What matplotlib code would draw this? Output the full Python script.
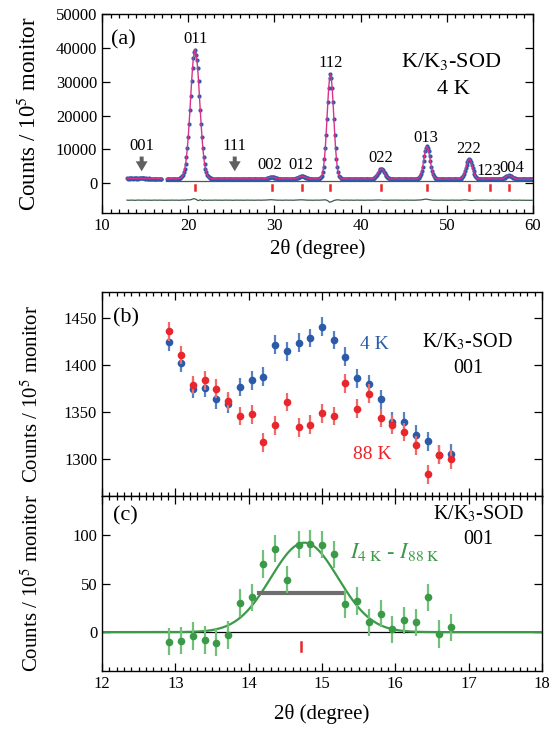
import numpy as np
import matplotlib
matplotlib.use("Agg")
import matplotlib.pyplot as plt
from matplotlib.ticker import MultipleLocator

plt.rcParams['font.family'] = ['Liberation Serif', 'DejaVu Serif']
plt.rcParams['mathtext.fontset'] = 'stix'
plt.rcParams['font.size'] = 12

# ---------------- (a) powder pattern at 4 K ----------------
step = 0.1
scan_starts = [12.9, 17.5, 23.0, 30.7, 34.3, 37.9, 43.6, 48.9, 53.8, 58.3]
obs_s1 = [1420, 1390, 1410, 1400, 1380, 1410, 1400, 1390, 1420, 1400,
          1380, 1410, 1400, 1390, 1400, 1420, 1410, 1430, 1420, 1410,
          1400, 1390, 1400, 1380, 1390, 1400, 1380, 1390, 1370, 1380,
          1370, 1360, 1370, 1350, 1360, 1340, 1330, 1340, 1320, 1320,
          1310]
obs_s2 = [1320, 1310, 1330, 1320, 1310, 1330, 1320, 1340, 1330, 1310,
          1320, 1300, 1310, 1330, 1370, 1420, 1530, 1710, 2010, 2480,
          3210, 4280, 5770, 7800, 10400, 13600, 17360, 21520, 25880, 30140,
          33950, 36980, 38700, 39500, 38000, 36500, 33950, 30140, 25880, 21520,
          17360, 13600, 10400, 7800, 5770, 4280, 3210, 2480, 2010, 1710,
          1530, 1420, 1370, 1330, 1310]
obs_s3 = [1300, 1290, 1310, 1300, 1290, 1300, 1310, 1290, 1300, 1280,
          1300, 1290, 1300, 1310, 1290, 1300, 1280, 1290, 1300, 1290,
          1300, 1310, 1300, 1290, 1300, 1310, 1300, 1290, 1280, 1300,
          1290, 1300, 1280, 1290, 1300, 1290, 1280, 1290, 1300, 1280,
          1290, 1280, 1290, 1300, 1280, 1290, 1280, 1290, 1280, 1300,
          1290, 1280, 1290, 1280, 1290, 1280, 1300, 1290, 1330, 1360,
          1390, 1450, 1510, 1590, 1670, 1740, 1780, 1800, 1780, 1740,
          1670, 1590, 1510, 1450, 1390, 1360, 1330]
obs_s4 = [1310, 1300, 1290, 1300, 1280, 1290, 1300, 1290, 1280, 1290,
          1300, 1290, 1280, 1290, 1300, 1320, 1350, 1380, 1440, 1520,
          1620, 1730, 1850, 1950, 2020, 2050, 2020, 1950, 1850, 1730,
          1620, 1520, 1440, 1380, 1350, 1320]
obs_s5 = [1300, 1290, 1280, 1290, 1280, 1270, 1280, 1290, 1280, 1350,
          1470, 1740, 2260, 3180, 4700, 7030, 10260, 14380, 19120, 23960,
          28200, 31110, 32150, 31110, 28200, 23960, 19120, 14380, 10260, 7030,
          4700, 3180, 2260, 1740, 1470, 1350]
obs_s6 = [1300, 1280, 1270, 1260, 1270, 1260, 1250, 1260, 1270, 1250,
          1260, 1250, 1260, 1270, 1250, 1260, 1250, 1240, 1260, 1250,
          1260, 1250, 1240, 1250, 1260, 1250, 1240, 1250, 1260, 1250,
          1240, 1250, 1260, 1250, 1300, 1350, 1440, 1590, 1810, 2120,
          2530, 2980, 3450, 3870, 4150, 4250, 4150, 3870, 3450, 2980,
          2530, 2120, 1810, 1590, 1440, 1350, 1300]
obs_s7 = [1270, 1260, 1250, 1240, 1250, 1260, 1250, 1240, 1250, 1260,
          1240, 1250, 1240, 1250, 1260, 1250, 1240, 1250, 1240, 1250,
          1260, 1240, 1250, 1240, 1250, 1260, 1250, 1240, 1250, 1260,
          1340, 1460, 1680, 2070, 2710, 3660, 4930, 6450, 8050, 9480,
          10490, 10850, 10490, 9480, 8050, 6450, 4930, 3660, 2710, 2070,
          1680, 1460, 1340]
obs_s8 = [1280, 1260, 1250, 1240, 1250, 1240, 1230, 1240, 1250, 1240,
          1230, 1240, 1250, 1240, 1230, 1240, 1230, 1240, 1250, 1240,
          1230, 1240, 1230, 1240, 1250, 1270, 1310, 1380, 1510, 1760,
          2150, 2730, 3510, 4440, 5430, 6310, 6930, 7150, 6930, 6310,
          5430, 4440, 3510, 2730, 2150, 1760, 1510, 1380, 1310]
obs_s9 = [1260, 1240, 1230, 1220, 1230, 1220, 1230, 1240, 1260, 1290,
          1320, 1340, 1350, 1330, 1300, 1270, 1250, 1230, 1220, 1230,
          1220, 1210, 1220, 1230, 1240, 1270, 1320, 1410, 1520, 1670,
          1840, 2010, 2160, 2260, 2300, 2260, 2160, 2010, 1840, 1670,
          1520, 1410, 1320, 1270, 1240]
obs_s10 = [1220, 1210, 1200, 1210, 1190, 1200, 1210, 1200, 1190, 1200,
           1190, 1200, 1210, 1190, 1200, 1190, 1200, 1190]
obs_segments = [obs_s1, obs_s2, obs_s3, obs_s4, obs_s5,
                obs_s6, obs_s7, obs_s8, obs_s9, obs_s10]

diff_start, diff_step = 12.9, 0.25
diff_counts = [
    -5000, -5040, -4990, -5020, -5050, -4980, -5010, -5030, -4990, -5020,
    -5000, -5040, -5010, -4990, -5030, -5000, -5020, -5010, -5040, -5000,
    -5030, -4990, -5020, -5000, -5040, -5010, -4980, -5020, -4900, -4950,
    -4800, -4550, -4750, -5150, -4900, -5100, -4980, -5050, -5000, -5030,
    -5010, -4990, -5020, -5000, -5030, -5010, -4990, -5020, -5000, -5040,
    -5010, -4990, -5020, -5000, -5030, -5010, -4990, -5020, -5000, -5030,
    -5010, -4990, -5020, -5000, -5010, -4960, -4900, -4880, -4930, -4990,
    -5020, -5000, -5030, -5010, -4990, -5020, -5000, -5030, -5010, -4960,
    -4920, -4900, -4940, -4980, -5020, -5000, -5030, -5010, -4990, -5020,
    -5000, -4950, -4900, -5100, -5600, -5450, -5100, -4950, -4900, -5000,
    -5030, -5010, -4990, -5020, -5000, -5030, -5010, -4990, -5020, -5000,
    -5030, -5010, -4990, -5020, -5000, -4960, -4930, -4950, -4990, -5030,
    -5010, -5040, -5000, -5020, -5010, -4990, -5020, -5000, -5030, -5010,
    -4990, -5020, -5000, -5030, -5010, -4990, -4950, -4880, -4750, -4700,
    -4850, -4950, -5020, -5000, -5030, -5010, -4990, -5020, -5000, -5030,
    -5010, -4990, -5020, -5000, -5030, -4990, -4950, -4920, -4980, -5060,
    -5100, -5040, -5000, -5020, -5010, -4990, -5020, -5000, -5030, -5010,
    -4990, -5020, -5000, -5030, -5010, -4990, -5020, -4980, -5020, -5040,
    -5010, -5030, -5000, -5040, -5020, -5050, -5030, -5060, -5040]

refl_pos = [20.8, 29.7, 33.2, 36.5, 42.4, 47.7, 52.6, 55.0, 57.2]
refl_hkl = ['011', '002', '012', '112', '022', '013', '222', '123', '004']
refl_label_x = [20.8, 29.5, 33.1, 36.5, 42.3, 47.6, 52.5, 54.9, 57.6]
refl_label_y = [42700, 5400, 5400, 35500, 7500, 13300, 10000, 3500, 4600]
arrow_hkl = ['001', '111']
arrow_pos = [14.6, 25.4]

# ---------------- (b), (c) 001 reflection ----------------
tth_001 = [12.92, 13.08, 13.24, 13.40, 13.56, 13.72, 13.88, 14.04, 14.20,
           14.36, 14.52, 14.68, 14.84, 15.00, 15.16, 15.32, 15.48, 15.64,
           15.80, 15.96, 16.12, 16.28, 16.44, 16.60, 16.76]
cnt_4K = [1425, 1403, 1375, 1376, 1364, 1359, 1377, 1384, 1388, 1422, 1415,
          1424, 1429, 1441, 1427, 1409, 1386, 1380, 1364, 1340, 1340, 1326,
          1319, 1305, 1306]
cnt_88K = [1436, 1411, 1379, 1384, 1375, 1362, 1346, 1348, 1318, 1336, 1361,
           1334, 1337, 1349, 1346, 1381, 1354, 1370, 1344, 1337, 1329, 1315,
           1284, 1305, 1300]
err_T = 10
cnt_diff = [-10, -9, -4, -8, -11, -3, 30, 36, 70, 86, 54, 90, 91, 90, 80,
            29, 32, 10, 19, 3, 12, 10, 36, -2, 5]
err_diff = 14
fit_center, fit_amp, fit_fwhm = 14.76, 92.0, 1.08
res_bar_x = [14.14, 15.28]
res_bar_y = 40
tick_001 = 14.71

BLUE = '#2a5aa8'
BLUE_E = '#5a80c4'
RED = '#e8262b'
RED_E = '#f06a6a'
GREEN = '#3a9a48'
GREEN_E = '#73c07a'
PINK = '#d8328c'
GRAY = '#606060'

W, H = 558, 731
fig = plt.figure(figsize=(W / 100, H / 100), dpi=100)


def box(l, t, r, b):
    return [l / W, 1 - b / H, (r - l) / W, (b - t) / H]


ax_a = fig.add_axes(box(102, 14, 533, 213))
ax_b = fig.add_axes(box(102, 292, 542, 496))
ax_c = fig.add_axes(box(102, 496, 542, 671))

for ax in (ax_a, ax_b, ax_c):
    ax.tick_params(which='both', direction='in', top=True, right=True,
                   labelsize=12, width=0.9)
    ax.tick_params(which='major', length=6)
    ax.tick_params(which='minor', length=3)
    for s in ax.spines.values():
        s.set_linewidth(1.0)

YLABEL = 'Counts / 10$^5$ monitor'
XLABEL = '2θ (degree)'

# ---- panel (a)
for start, vals in zip(scan_starts, obs_segments):
    x = start + step * np.arange(len(vals))
    ax_a.plot(x, vals, color=PINK, lw=1.0, zorder=3)
    ax_a.plot(x, vals, 'o', ms=3.0, color=BLUE, mec='none', zorder=2)
ax_a.plot([17.4, 60], [600, 600], color='#555555', lw=0.9, zorder=1)
xd = diff_start + diff_step * np.arange(len(diff_counts))
ax_a.plot(xd, diff_counts, color='#3c5a48', lw=0.9)
for p in refl_pos:
    ax_a.plot([p, p], [-400, -2100], color=RED, lw=1.8)
for lab, lx, ly in zip(refl_hkl, refl_label_x, refl_label_y):
    ax_a.text(lx, ly, lab, ha='center', va='center', fontsize=12)
for lab, p in zip(arrow_hkl, arrow_pos):
    ax_a.annotate('', xy=(p, 2700), xytext=(p, 8700),
                  arrowprops=dict(arrowstyle='simple,head_length=0.8,head_width=0.95,tail_width=0.32',
                                  color=GRAY, mutation_scale=9, lw=0))
    ax_a.text(p, 11000, lab, ha='center', va='center', fontsize=12)
ax_a.text(11.1, 42500, '(a)', ha='left', va='center', fontsize=16)
ax_a.text(50.5, 36000, 'K/K$_3$-SOD', ha='center', va='center', fontsize=16)
ax_a.text(50.8, 27800, '4 K', ha='center', va='center', fontsize=16)
ax_a.set_xlim(10, 60)
ax_a.set_ylim(-8800, 50000)
ax_a.xaxis.set_major_locator(MultipleLocator(10))
ax_a.xaxis.set_minor_locator(MultipleLocator(1))
ax_a.yaxis.set_major_locator(MultipleLocator(10000))
ax_a.set_xlabel(XLABEL, fontsize=15, labelpad=4)
ax_a.set_ylabel(YLABEL, fontsize=16.5)
ax_a.yaxis.set_label_coords(-0.142, 0.5)

# ---- panel (b)
ax_b.errorbar(tth_001, cnt_4K, yerr=err_T, fmt='o', ms=5.5, color=BLUE,
              mec='none', ecolor=BLUE_E, elinewidth=1.6, capsize=0, zorder=2)
ax_b.errorbar(tth_001, cnt_88K, yerr=err_T, fmt='o', ms=5.5, color=RED,
              mec='none', ecolor=RED_E, elinewidth=1.6, capsize=0, zorder=3)
ax_b.text(15.71, 1422, '4 K', color=BLUE, ha='center', va='center', fontsize=14)
ax_b.text(15.68, 1305, '88 K', color=RED, ha='center', va='center', fontsize=14)
ax_b.text(16.99, 1425, 'K/K$_3$-SOD', ha='center', va='center', fontsize=14.5)
ax_b.text(17.0, 1397, '001', ha='center', va='center', fontsize=14.5)
ax_b.text(12.15, 1450, '(b)', ha='left', va='center', fontsize=16)
ax_b.set_xlim(12, 18)
ax_b.set_ylim(1261, 1478)
ax_b.xaxis.set_major_locator(MultipleLocator(1))
ax_b.xaxis.set_minor_locator(MultipleLocator(0.1))
ax_b.yaxis.set_major_locator(MultipleLocator(50))
ax_b.tick_params(axis='x', labelbottom=False)
ax_b.set_ylabel(YLABEL, fontsize=15)
ax_b.yaxis.set_label_coords(-0.134, 0.5)

# ---- panel (c)
xf = np.linspace(12, 18, 601)
sig = fit_fwhm / (2 * np.sqrt(2 * np.log(2)))
ax_c.axhline(0, color='black', lw=0.9, zorder=1)
ax_c.plot(xf, fit_amp * np.exp(-0.5 * ((xf - fit_center) / sig) ** 2),
          color=GREEN, lw=1.6, zorder=2)
ax_c.errorbar(tth_001, cnt_diff, yerr=err_diff, fmt='o', ms=5.5, color=GREEN,
              mec='none', ecolor=GREEN_E, elinewidth=1.6, capsize=0, zorder=3)
ax_c.plot(res_bar_x, [res_bar_y, res_bar_y], color='#6e6e6e', lw=3, zorder=2)
ax_c.plot([tick_001, tick_001], [-10, -19], color=RED, lw=1.8)
ax_c.text(12.15, 120, '(c)', ha='left', va='center', fontsize=16)
ax_c.text(17.13, 122, 'K/K$_3$-SOD', ha='center', va='center', fontsize=14.5)
ax_c.text(17.13, 95, '001', ha='center', va='center', fontsize=14.5)
ax_c.text(16.0, 82, r'$I_{\mathrm{4\ K}}$ - $I_{\mathrm{88\ K}}$', color=GREEN,
          ha='center', va='center', fontsize=16)
ax_c.set_xlim(12, 18)
ax_c.set_ylim(-40, 140)
ax_c.xaxis.set_major_locator(MultipleLocator(1))
ax_c.xaxis.set_minor_locator(MultipleLocator(0.1))
ax_c.set_yticks([0, 50, 100])
ax_c.set_xlabel(XLABEL, fontsize=15, labelpad=9)
ax_c.set_ylabel(YLABEL, fontsize=15)
ax_c.yaxis.set_label_coords(-0.134, 0.5)

fig.savefig('out.png', dpi=100)
